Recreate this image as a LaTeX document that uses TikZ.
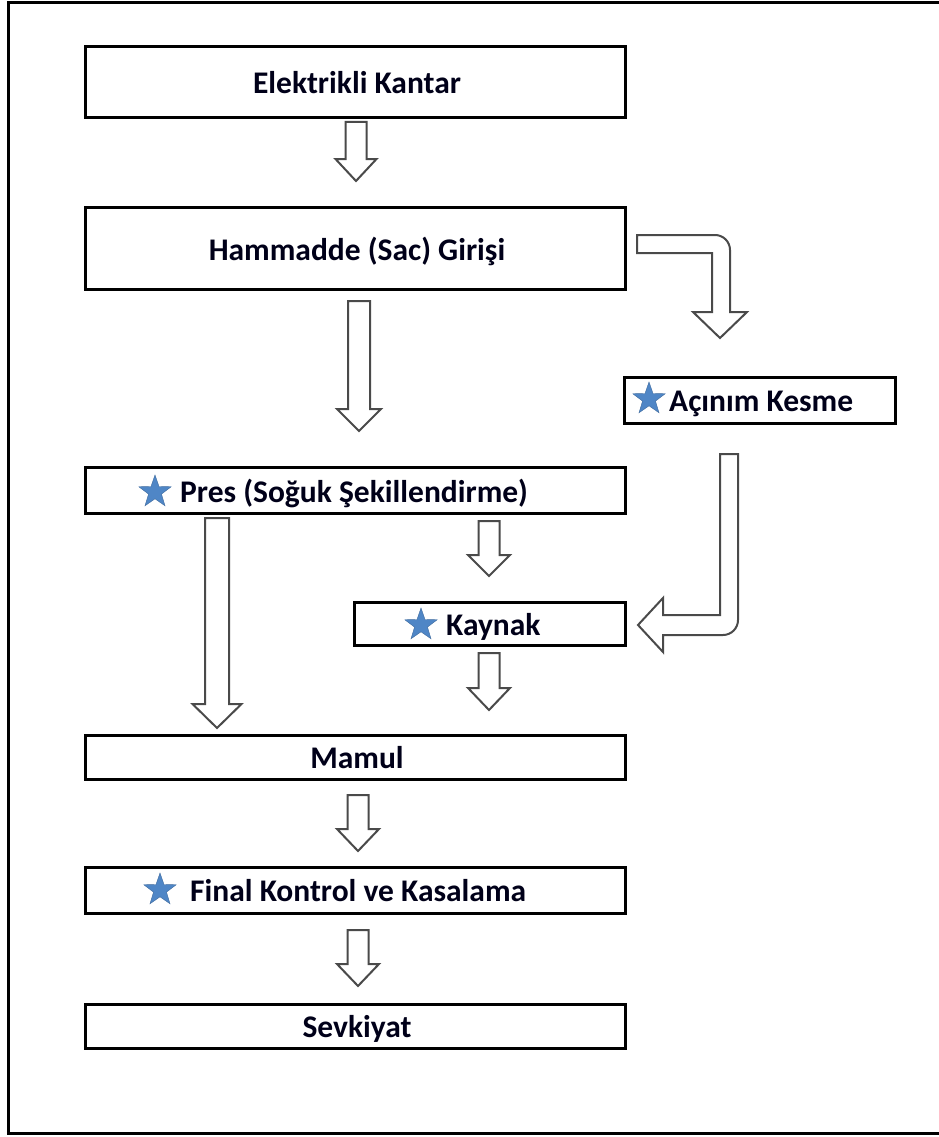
\documentclass[tikz,border=0pt]{standalone}
\usepackage{fontspec}
\setmainfont{Carlito}
\usetikzlibrary{shapes.geometric}
\definecolor{starblue}{HTML}{4F86C6}
\definecolor{arrowgray}{HTML}{4A4A4A}
\tikzset{
  box/.style={draw=black, line width=3pt, fill=white, inner sep=0pt},
  lbl/.style={font=\fontsize{31.5}{36}\selectfont\bfseries, text=black!90!blue, inner sep=0pt},
  bstar/.style={star, star points=5, star point ratio=2.5, fill=starblue, draw=starblue!80!black, line width=0.4pt, minimum size=34pt, inner sep=0pt},
  barrow/.style={draw=arrowgray, line width=2pt, fill=white, line join=miter}
}
\newcommand\blockdown[6]{%
  \draw[barrow] ({#1-#4},#2) -- ({#1+#4},#2) -- ({#1+#4},{#3-#6}) -- ({#1+#5},{#3-#6}) -- (#1,#3) -- ({#1-#5},{#3-#6}) -- ({#1-#4},{#3-#6}) -- cycle;}
\begin{document}
\begin{tikzpicture}[x=1pt,y=-1pt]
\useasboundingbox (0,0) rectangle (939,1137);
\fill[white] (0,0) rectangle (939,1137);
\draw[line width=3pt] (8,3) rectangle (945,1133);

% boxes
\node[box, minimum width=540pt, minimum height=71pt] (kantar) at (355,82.5) {};
\node[box, minimum width=540pt, minimum height=82pt] (hammadde) at (355,248) {};
\node[box, minimum width=271pt, minimum height=46pt] (acinim) at (759.5,400) {};
\node[box, minimum width=540pt, minimum height=46pt] (pres) at (355,490) {};
\node[box, minimum width=271pt, minimum height=43pt] (kaynak) at (489.5,623.5) {};
\node[box, minimum width=540pt, minimum height=44pt] (mamul) at (355,757) {};
\node[box, minimum width=540pt, minimum height=46pt] (final) at (355,890) {};
\node[box, minimum width=540pt, minimum height=44pt] (sevk) at (355,1026.5) {};

% labels
\node[lbl, anchor=base] (tkantar) at (357,94) {Elektrikli Kantar};
\node[lbl, anchor=base] (thammadde) at (357,260) {Hammadde (Sac) Girişi};
\node[bstar] (sacinim) at (649,399) {};
\node[lbl, anchor=base west] (tacinim) at (669,411) {Açınım Kesme};
\node[bstar] (spres) at (155,492) {};
\node[lbl, anchor=base west] (tpres) at (180,502) {Pres (Soğuk Şekillendirme)};
\node[bstar] (skaynak) at (421,625) {};
\node[lbl, anchor=base west] (tkaynak) at (446,635) {Kaynak};
\node[lbl, anchor=base] (tmamul) at (357,768) {Mamul};
\node[bstar] (sfinal) at (160,890) {};
\node[lbl, anchor=base west] (tfinal) at (190,901) {Final Kontrol ve Kasalama};
\node[lbl, anchor=base] (tsevk) at (357,1037) {Sevkiyat};

% straight block arrows: cx, top, tip, shaft half, head half, head length
\blockdown{356}{122}{181}{10.5}{20.5}{22}
\blockdown{359}{301}{431}{11}{22}{22}
\blockdown{217}{518}{728}{12}{24.5}{24}
\blockdown{489}{521}{576}{10.5}{21}{21}
\blockdown{489}{653}{710}{10.5}{21}{22}
\blockdown{358}{795}{851}{10.5}{21}{22}
\blockdown{358}{930}{986}{10.5}{21}{22}

% bent arrow: Hammadde -> Acinim
\draw[barrow] (637,235) -- (715,235) .. controls (723.3,235) and (730,241.7) .. (730,250)
  -- (730,312) -- (747,312) -- (720,338) -- (693,312) -- (712,312) -- (712,253) -- (637,253) -- cycle;
% bent arrow: Acinim -> Kaynak
\draw[barrow] (720,454) -- (738,454) -- (738,620) .. controls (738,628.3) and (731.3,635) .. (723,635)
  -- (663,635) -- (663,652) -- (638,625) -- (663,598) -- (663,615) -- (720,615) -- cycle;
\end{tikzpicture}
\end{document}
